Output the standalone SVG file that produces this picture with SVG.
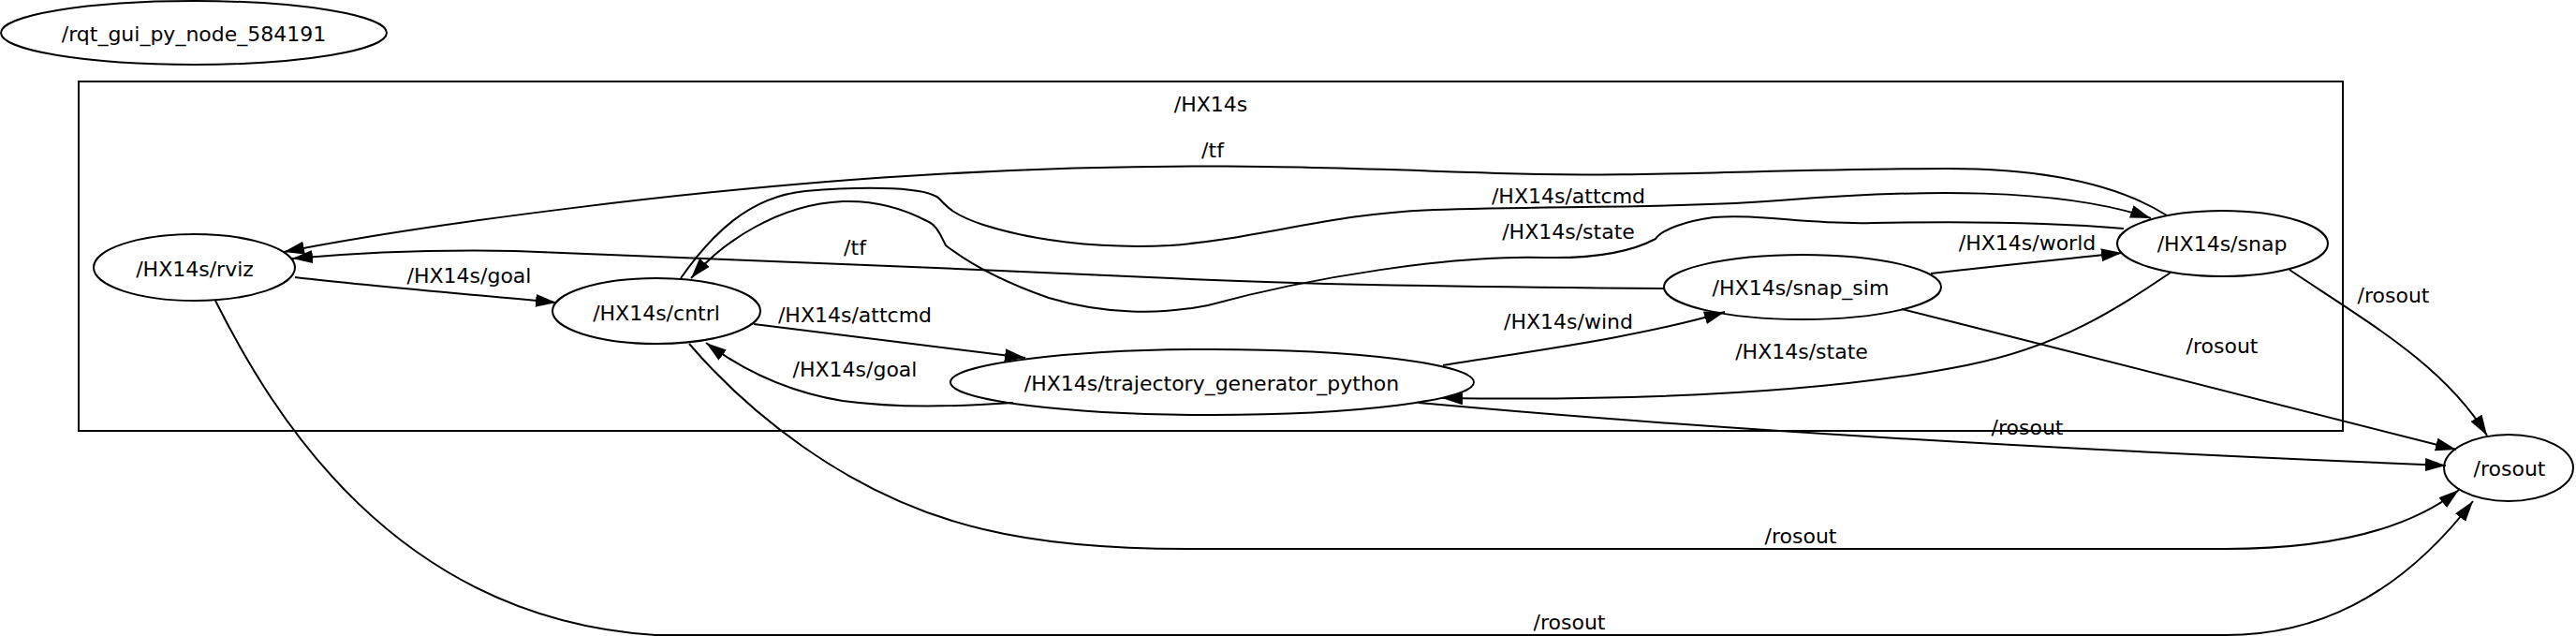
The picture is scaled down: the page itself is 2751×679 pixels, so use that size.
<svg xmlns="http://www.w3.org/2000/svg" width="2751" height="679" viewBox="0 0 2751 679">
<style>
text{font-family:"DejaVu Sans","Liberation Sans",sans-serif;font-size:22px;fill:#000;text-anchor:middle}
.n{fill:none;stroke:#000;stroke-width:2}
.e{fill:none;stroke:#000;stroke-width:2}
.c{fill:none;stroke:#000;stroke-width:2}
</style>
<defs>
<marker id="ah" markerUnits="userSpaceOnUse" markerWidth="24" markerHeight="16" refX="22" refY="7" orient="auto">
<path d="M0,0 L22,7 L0,14 z" fill="#000"/>
</marker>
</defs>
<rect width="2751" height="679" fill="#fff"/>
<g id="cluster_HX14s">
<rect class="c" x="84" y="87" width="2418" height="373"/>
<text x="1293" y="119">/HX14s</text>
</g>
<g id="connectors">
<path class="e" marker-end="url(#ah)" d="M315,296 C400,306 500,314 594,323"/>
<text x="501" y="302">/HX14s/goal</text>
<path class="e" marker-end="url(#ah)" d="M2314,230 C2260,196 2180,180 2080,180 C1900,180 1750,190 1600,185 C1400,178 1250,172 1000,186 C750,200 450,240 303,269"/>
<text x="1295" y="168">/tf</text>
<path class="e" marker-end="url(#ah)" d="M727,297 C760,250 800,210 860,204 C930,198 990,200 1003,212 C1012,222 1020,230 1050,240 C1100,256 1170,266 1250,262 C1350,254 1420,228 1531,224 C1650,220 1800,222 1900,214 C2050,202 2200,200 2297,233"/>
<text x="1675" y="217">/HX14s/attcmd</text>
<path class="e" marker-end="url(#ah)" d="M2268,244 C2200,238 2100,236 2000,238 C1930,240 1880,228 1830,232 C1800,236 1775,245 1768,255 C1740,270 1700,276 1650,275 C1550,272 1400,296 1290,326 C1240,336 1180,336 1120,318 C1080,304 1040,285 1010,262 C1004,250 1000,240 990,236 C960,220 930,214 900,215 C830,218 770,260 738,297"/>
<text x="1675" y="255">/HX14s/state</text>
<path class="e" marker-end="url(#ah)" d="M1777,308 C1500,306 1350,302 1250,297 C1000,286 700,272 550,268 C450,266 380,270 312,276"/>
<text x="913" y="272">/tf</text>
<path class="e" marker-end="url(#ah)" d="M805,346 C900,358 1000,370 1095,382"/>
<text x="913" y="344">/HX14s/attcmd</text>
<path class="e" marker-end="url(#ah)" d="M1082,430 C1020,434 960,436 900,428 C850,420 800,400 754,366"/>
<text x="913" y="402">/HX14s/goal</text>
<path class="e" marker-end="url(#ah)" d="M1541,390 C1640,374 1750,360 1842,333"/>
<text x="1675" y="351">/HX14s/wind</text>
<path class="e" marker-end="url(#ah)" d="M2062,292 C2130,284 2200,277 2266,270"/>
<text x="2165" y="267">/HX14s/world</text>
<path class="e" marker-end="url(#ah)" d="M2318,291 C2260,330 2200,370 2100,390 C1950,420 1750,428 1540,425"/>
<text x="1924" y="383">/HX14s/state</text>
<path class="e" marker-end="url(#ah)" d="M2445,288 C2530,345 2610,390 2656,465"/>
<text x="2556" y="323">/rosout</text>
<path class="e" marker-end="url(#ah)" d="M2031,330 C2230,380 2430,430 2623,480"/>
<text x="2373" y="377">/rosout</text>
<path class="e" marker-end="url(#ah)" d="M1515,430 Q1950,470 2612,497"/>
<text x="2165" y="464">/rosout</text>
<path class="e" marker-end="url(#ah)" d="M736,367 C790,430 900,530 1050,565 C1120,582 1200,586 1268,586 L2377,586 C2460,586 2560,575 2626,523"/>
<text x="1923" y="580">/rosout</text>
<path class="e" marker-end="url(#ah)" d="M230,321 C290,440 420,660 700,678 L2377,678 C2470,678 2560,640 2641,535"/>
<text x="1676" y="672">/rosout</text>
</g>
<g id="node_rqt_gui_py_node_584191">
<ellipse class="n" cx="207" cy="35" rx="206" ry="34"/>
<text x="207" y="44">/rqt_gui_py_node_584191</text>
</g>
<g id="node_rviz">
<ellipse class="n" cx="207.5" cy="285.5" rx="107.5" ry="35.5"/>
<text x="208" y="295">/HX14s/rviz</text>
</g>
<g id="node_cntrl">
<ellipse class="n" cx="701" cy="332" rx="111" ry="35"/>
<text x="701" y="342">/HX14s/cntrl</text>
</g>
<g id="node_trajectory_generator_python">
<ellipse class="n" cx="1294.5" cy="408" rx="279.5" ry="35"/>
<text x="1294" y="417">/HX14s/trajectory_generator_python</text>
</g>
<g id="node_snap_sim">
<ellipse class="n" cx="1925" cy="306.5" rx="148" ry="34.5"/>
<text x="1923" y="315">/HX14s/snap_sim</text>
</g>
<g id="node_snap">
<ellipse class="n" cx="2373.5" cy="260" rx="112.5" ry="35"/>
<text x="2373" y="268">/HX14s/snap</text>
</g>
<g id="node_rosout">
<ellipse class="n" cx="2679" cy="499.5" rx="69" ry="35.5"/>
<text x="2680" y="508">/rosout</text>
</g>
</svg>
